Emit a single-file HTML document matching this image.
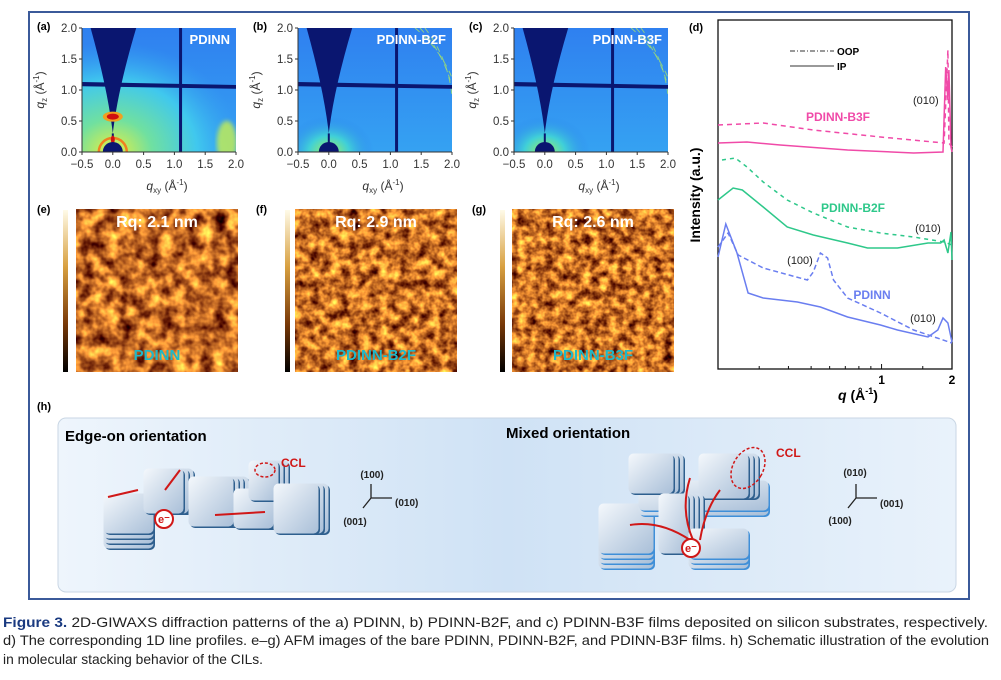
<!DOCTYPE html>
<html><head><meta charset="utf-8"><style>
html,body{margin:0;padding:0;background:#fff;}
svg{display:block;font-family:"Liberation Sans",Arial,sans-serif;}
</style></head><body>
<svg id="fig" width="1001" height="680" viewBox="0 0 1001 680" xmlns="http://www.w3.org/2000/svg">
<defs>
  <filter id="afm1" x="0" y="0" width="100%" height="100%" color-interpolation-filters="sRGB">
    <feTurbulence type="fractalNoise" baseFrequency="0.075" numOctaves="3" seed="3"/>
    <feColorMatrix type="matrix" values="1.8 0 0 0 -0.12  1.5 0 0 0 -0.32  0.6 0 0 0 -0.15  0 0 0 0 1"/>
  </filter>
  <filter id="afm2" x="0" y="0" width="100%" height="100%" color-interpolation-filters="sRGB">
    <feTurbulence type="fractalNoise" baseFrequency="0.1" numOctaves="3" seed="8"/>
    <feColorMatrix type="matrix" values="1.8 0 0 0 -0.1  1.5 0 0 0 -0.3  0.6 0 0 0 -0.15  0 0 0 0 1"/>
  </filter>
  <filter id="afm3" x="0" y="0" width="100%" height="100%" color-interpolation-filters="sRGB">
    <feTurbulence type="fractalNoise" baseFrequency="0.11" numOctaves="3" seed="15"/>
    <feColorMatrix type="matrix" values="1.8 0 0 0 -0.1  1.5 0 0 0 -0.3  0.6 0 0 0 -0.15  0 0 0 0 1"/>
  </filter>
  <filter id="blur2"><feGaussianBlur stdDeviation="2"/></filter>
  <linearGradient id="cbar" x1="0" y1="0" x2="0" y2="1">
    <stop offset="0" stop-color="#fffbe8"/><stop offset="0.35" stop-color="#d8a040"/>
    <stop offset="0.7" stop-color="#7a3a08"/><stop offset="1" stop-color="#000"/>
  </linearGradient>
  <linearGradient id="hbg" x1="0" y1="0" x2="1" y2="0">
    <stop offset="0" stop-color="#eef5fc"/><stop offset="0.5" stop-color="#cfe2f5"/><stop offset="1" stop-color="#e9f2fb"/>
  </linearGradient>
  <linearGradient id="gbg" x1="0" y1="0" x2="0" y2="1">
    <stop offset="0" stop-color="#2f80f0"/><stop offset="1" stop-color="#35a2f2"/>
  </linearGradient>
  <radialGradient id="glowA" cx="0.5" cy="0.5" r="0.5">
    <stop offset="0" stop-color="#e8f040"/><stop offset="0.3" stop-color="#70e0a0"/>
    <stop offset="0.65" stop-color="#40c8ee"/><stop offset="1" stop-color="#35a0f0" stop-opacity="0"/>
  </radialGradient>
  <radialGradient id="glowB" cx="0.5" cy="0.5" r="0.5">
    <stop offset="0" stop-color="#a0f060"/><stop offset="0.45" stop-color="#40d0d8"/>
    <stop offset="1" stop-color="#2a80ee" stop-opacity="0"/>
  </radialGradient>
  <linearGradient id="blk" x1="0" y1="0" x2="1" y2="1">
    <stop offset="0" stop-color="#f4f8fc"/><stop offset="1" stop-color="#a9bfd8"/>
  </linearGradient>
</defs>
<rect width="1001" height="680" fill="#fff"/>
<rect x="29" y="12" width="940" height="587" fill="none" stroke="#3b5a9a" stroke-width="2"/>

<g id="giwaxs"></g>

<!-- AFM -->
<g font-weight="bold">
  <text x="37" y="213" font-size="11">(e)</text>
  <rect x="63" y="210" width="5" height="162" fill="url(#cbar)"/>
  <rect x="76" y="209" width="162" height="163" filter="url(#afm1)"/>
  <text x="157" y="227" font-size="16" fill="#fff" text-anchor="middle">Rq: 2.1 nm</text>
  <text x="157" y="360" font-size="15" fill="#20b8c8" text-anchor="middle">PDINN</text>

  <text x="256" y="213" font-size="11">(f)</text>
  <rect x="285" y="210" width="5" height="162" fill="url(#cbar)"/>
  <rect x="295" y="209" width="162" height="163" filter="url(#afm2)"/>
  <text x="376" y="227" font-size="16" fill="#fff" text-anchor="middle">Rq: 2.9 nm</text>
  <text x="376" y="360" font-size="15" fill="#20b8c8" text-anchor="middle">PDINN-B2F</text>

  <text x="472" y="213" font-size="11">(g)</text>
  <rect x="500" y="210" width="5" height="162" fill="url(#cbar)"/>
  <rect x="512" y="209" width="162" height="163" filter="url(#afm3)"/>
  <text x="593" y="227" font-size="16" fill="#fff" text-anchor="middle">Rq: 2.6 nm</text>
  <text x="593" y="360" font-size="15" fill="#20b8c8" text-anchor="middle">PDINN-B3F</text>
</g>

<!-- Panel d -->
<g id="pd">
  <text x="689" y="31" font-size="11" font-weight="bold">(d)</text>
  <rect x="718" y="20" width="234" height="349" fill="none" stroke="#111" stroke-width="1.3"/>
  <text transform="translate(700,195) rotate(-90)" font-size="14" font-weight="bold" text-anchor="middle">Intensity (a.u.)</text>
  <text x="858" y="400" font-size="14" font-weight="bold" text-anchor="middle"><tspan font-style="italic">q</tspan> (Å<tspan font-size="9" dy="-6">-1</tspan><tspan dy="6">)</tspan></text>
  <g font-size="10" font-weight="bold">
    <line x1="790" y1="51" x2="834" y2="51" stroke="#333" stroke-dasharray="5,2,1,2"/>
    <text x="837" y="55">OOP</text>
    <line x1="790" y1="66" x2="834" y2="66" stroke="#333"/>
    <text x="837" y="70">IP</text>
  </g>
  <g font-size="11" fill="#222">
    <text x="913" y="104">(010)</text>
    <text x="928" y="232" text-anchor="middle">(010)</text>
    <text x="800" y="264" text-anchor="middle">(100)</text>
    <text x="923" y="322" text-anchor="middle">(010)</text>
  </g>
  <g font-size="12" font-weight="bold">
    <text x="838" y="121" fill="#f04aa8" text-anchor="middle">PDINN-B3F</text>
    <text x="853" y="212" fill="#2ec88a" text-anchor="middle">PDINN-B2F</text>
    <text x="872" y="299" fill="#6a7ef0" text-anchor="middle">PDINN</text>
  </g>
  <g id="pdticks"></g>
  <g id="pdlines"></g>
</g>

<!-- Panel h -->
<g>
  <text x="37" y="410" font-size="11" font-weight="bold">(h)</text>
  <rect x="58" y="418" width="898" height="174" rx="8" fill="url(#hbg)" stroke="#c9d6e4"/>
  <text x="65" y="441" font-size="15" font-weight="bold">Edge-on orientation</text>
  <text x="506" y="438" font-size="15" font-weight="bold">Mixed orientation</text>
  <g id="blocks"></g>
  <g font-size="10" font-weight="bold" fill="#222">
    <text x="372" y="478" text-anchor="middle">(100)</text>
    <text x="395" y="506">(010)</text>
    <text x="355" y="525" text-anchor="middle">(001)</text>
    <text x="855" y="476" text-anchor="middle">(010)</text>
    <text x="880" y="507">(001)</text>
    <text x="840" y="524" text-anchor="middle">(100)</text>
  </g>
  <g stroke="#222" stroke-width="1.3" fill="none">
    <path d="M371,498 V484 M371,498 H392 M371,498 L363,508"/>
    <path d="M856,498 V484 M856,498 H877 M856,498 L848,508"/>
  </g>
  <g fill="#d01818" font-size="12" font-weight="bold">
    <text x="281" y="467">CCL</text>
    <text x="776" y="457">CCL</text>
  </g>
</g>

<!-- Caption -->
<g font-size="14" fill="#222">
  <text x="3" y="627" textLength="985" lengthAdjust="spacingAndGlyphs"><tspan font-weight="bold" fill="#1a3a80">Figure 3.</tspan> 2D-GIWAXS diffraction patterns of the a) PDINN, b) PDINN-B2F, and c) PDINN-B3F films deposited on silicon substrates, respectively.</text>
  <text x="3" y="645" textLength="986" lengthAdjust="spacingAndGlyphs">d) The corresponding 1D line profiles. e–g) AFM images of the bare PDINN, PDINN-B2F, and PDINN-B3F films. h) Schematic illustration of the evolution</text>
  <text x="3" y="664" textLength="260" lengthAdjust="spacingAndGlyphs">in molecular stacking behavior of the CILs.</text>
</g>
</svg>
<script>
// ---- Panel d data (q in Å^-1, intensity in arbitrary units) ----
const pdinnIpQ   = [0.2,0.216,0.241,0.269,0.312,0.437,0.548,0.716,0.99,1.17,1.58,1.74,1.83,1.92,2.0];
const pdinnIpI   = [112,145,116,76,71,67,62,52,44,39,32,39,51,46,27];
const pdinnOopQ  = [0.2,0.221,0.244,0.312,0.482,0.511,0.548,0.588,0.623,0.716,0.99,1.37,2.0];
const pdinnOopI  = [122,136,114,101,89,97,116,111,89,71,56,39,26];
const b2fIpQ     = [0.2,0.232,0.254,0.312,0.395,0.511,0.716,0.871,1.17,1.58,1.79,1.85,1.92,1.98,2.0];
const b2fIpI     = [169,181,179,162,142,134,126,121,121,126,126,129,116,137,109];
const b2fOopQ    = [0.208,0.237,0.266,0.312,0.395,0.511,0.716,0.99,1.37,1.85,2.0];
const b2fOopI    = [209,211,202,187,169,156,142,136,132,127,124];
const b3fIpQ     = [0.2,0.266,0.369,0.716,1.37,1.83,1.88,1.92,1.94,1.98,2.0];
const b3fIpI     = [226,227,224,219,216,217,302,269,299,222,217];
const b3fOopQ    = [0.2,0.312,0.511,0.99,1.85,1.92,1.94,2.0];
const b3fOopI    = [244,246,239,232,226,319,226,222];
const majorTicks = [1,2];
const majorLabels= ["1","2"];
const minorTicks = [0.3,0.4,0.5,0.6,0.7,0.8,0.9,1.5];

const NS="http://www.w3.org/2000/svg";
function mk(tag,attrs,parent){const e=document.createElementNS(NS,tag);for(const k in attrs)e.setAttribute(k,attrs[k]);parent.appendChild(e);return e;}
const X0=718,X1=952,Y0=369,Y1=20,QMIN=0.2,QMAX=2.0,IMAX=349;
function xs(q){return X0+(X1-X0)*Math.log10(q/QMIN)/Math.log10(QMAX/QMIN);}
function ys(v){return Y0-(Y0-Y1)*v/IMAX;}

const tg=document.getElementById('pdticks');
majorTicks.forEach((t,i)=>{
  const l=mk('line',{x1:xs(t),x2:xs(t),y1:Y0,y2:Y0-5,stroke:'#111'},tg);
  
  
  const tx=mk('text',{x:xs(t),y:Y0+15,'font-size':12,'font-weight':'bold','text-anchor':'middle'},tg);
  tx.textContent=majorLabels[i];
  
  
});
minorTicks.forEach(t=>{
  const l=mk('line',{x1:xs(t),x2:xs(t),y1:Y0,y2:Y0-3,stroke:'#111'},tg);
  
  
});
const lg=document.getElementById('pdlines');
const series=[
 ['pdinn-ip',pdinnIpQ,pdinnIpI,'#6a7ef0',null],
 ['pdinn-oop',pdinnOopQ,pdinnOopI,'#6a7ef0','5,3'],
 ['pdinn-b2f-ip',b2fIpQ,b2fIpI,'#2ec88a',null],
 ['pdinn-b2f-oop',b2fOopQ,b2fOopI,'#2ec88a','4,4'],
 ['pdinn-b3f-ip',b3fIpQ,b3fIpI,'#f04aa8',null],
 ['pdinn-b3f-oop',b3fOopQ,b3fOopI,'#f04aa8','5,4']];
series.forEach(s=>{
  const d=s[1].map((q,i)=>(i?'L':'M')+xs(q).toFixed(1)+','+ys(s[2][i]).toFixed(1)).join(' ');
  const p=mk('path',{d:d,fill:'none',stroke:s[3],'stroke-width':1.5},lg);
  if(s[4])p.setAttribute('stroke-dasharray',s[4]);
  
  
});

// ---- GIWAXS panels ----
const gw=document.getElementById('giwaxs');
const panels=[['(a)','PDINN',82,'a'],['(b)','PDINN-B2F',298,'b'],['(c)','PDINN-B3F',514,'c']];
panels.forEach((pp,k)=>{
  const x0=pp[2],y0=28,w=154,h=124,sx=w/2.5,sy=h/2;
  const ox=x0+0.5*sx,oy=y0+h;
  const X=q=>ox+q*sx,Y=q=>oy-q*sy;
  const g=mk('g',{},gw);
  
  
  const cp=mk('clipPath',{id:'cp'+k},g);mk('rect',{x:x0,y:y0,width:w,height:h},cp);
  const c=mk('g',{'clip-path':'url(#cp'+k+')'},g);
  mk('rect',{x:x0,y:y0,width:w,height:h,fill:'url(#gbg)'},c);
  if(pp[3]==='a'){
    mk('ellipse',{cx:ox,cy:oy,rx:130,ry:110,fill:'url(#glowA)'},c);
    mk('ellipse',{cx:X(1.85),cy:Y(0.15),rx:10,ry:22,fill:'#c8f050',opacity:0.8,filter:'url(#blur2)'},c);
  } else {
    mk('ellipse',{cx:ox,cy:oy,rx:45,ry:36,fill:'url(#glowB)'},c);
    for(let r=0;r<3;r++){
      mk('path',{d:`M${X(1.4+r*0.08)},${y0} A${2.1*sx} ${2.1*sy} 0 0 1 ${x0+w},${Y(1.2-r*0.15)}`,fill:'none',stroke:'#a0e070','stroke-width':1,'stroke-dasharray':'6,5',opacity:0.8},c);
    }
  }
  mk('path',{d:`M${X(-0.36)},${y0} Q${X(-0.08)},${Y(1.0)} ${X(0)},${Y(0.3)} Q${X(0.08)},${Y(1.0)} ${X(0.38)},${y0} Z`,fill:'#0a1670'},c);
  mk('line',{x1:X(0),y1:Y(0.3),x2:X(0),y2:oy,stroke:'#0a1670','stroke-width':2},c);
  mk('path',{d:`M${x0},${Y(1.13)} L${x0+w},${Y(1.08)} L${x0+w},${Y(1.02)} L${x0},${Y(1.06)} Z`,fill:'#0a1670'},c);
  mk('rect',{x:X(1.1)-1.5,y:y0,width:3,height:h,fill:'#0a1670'},c);
  if(pp[3]==='a'){
    mk('ellipse',{cx:X(0),cy:Y(0.57),rx:10,ry:5,fill:'#f0a020'},c);
    mk('ellipse',{cx:X(0),cy:Y(0.57),rx:6,ry:3,fill:'#d01010'},c);
    mk('circle',{cx:ox,cy:oy,r:14,fill:'none',stroke:'#f08020','stroke-width':2.5},c);
    mk('ellipse',{cx:X(0),cy:Y(0.2),rx:2,ry:4,fill:'#d01010'},c);
  }
  mk('circle',{cx:ox,cy:oy,r:10,fill:'#0a1670'},c);
  // axes
  mk('line',{x1:x0,y1:y0,x2:x0,y2:y0+h,stroke:'#333'},g);
  mk('line',{x1:x0,y1:y0+h,x2:x0+w,y2:y0+h,stroke:'#333'},g);
  for(let v=0;v<=2.001;v+=0.5){
    mk('line',{x1:x0-3,x2:x0,y1:Y(v),y2:Y(v),stroke:'#333'},g);
    const t=mk('text',{x:x0-5,y:Y(v)+4,'font-size':11.5,fill:'#333','text-anchor':'end'},g);t.textContent=v.toFixed(1);
  }
  for(let v=-0.5;v<=2.001;v+=0.5){
    mk('line',{x1:X(v),x2:X(v),y1:oy,y2:oy+3,stroke:'#333'},g);
    const t=mk('text',{x:X(v),y:oy+16,'font-size':11.5,fill:'#333','text-anchor':'middle'},g);t.textContent=(v<0?'\u2212':'')+Math.abs(v).toFixed(1);
  }
  const lab=mk('text',{x:x0-45,y:y0+2,'font-size':11,'font-weight':'bold'},g);lab.textContent=pp[0];
  const nm=mk('text',{x:x0+w-6,y:y0+16,'font-size':13,'font-weight':'bold',fill:'#fff','text-anchor':'end'},g);nm.textContent=pp[1];
  const yt=mk('text',{transform:`translate(${x0-38},${y0+h/2}) rotate(-90)`,'font-size':12,fill:'#333','text-anchor':'middle'},g);
  yt.innerHTML='<tspan font-style="italic">q</tspan><tspan font-size="8" dy="3">z</tspan><tspan dy="-3"> (Å</tspan><tspan font-size="8" dy="-5">-1</tspan><tspan dy="5">)</tspan>';
  const xt=mk('text',{x:x0+w/2+8,y:y0+h+38,'font-size':12,fill:'#333','text-anchor':'middle'},g);
  xt.innerHTML='<tspan font-style="italic">q</tspan><tspan font-size="8" dy="3">xy</tspan><tspan dy="-3"> (Å</tspan><tspan font-size="8" dy="-5">-1</tspan><tspan dy="5">)</tspan>';
});

// ---- schematic blocks ----
const bl=document.getElementById('blocks');
function stack(x,y,w,h,n,vertical,blue){
  const g=mk('g',{},bl);
  for(let i=n-1;i>=0;i--){
    const dx=vertical?i*5:0,dy=vertical?0:i*5;
    mk('rect',{x:x+dx,y:y+dy,width:w,height:h,rx:5,fill:blue?'#3f8fd8':'#2e5f8e'},g);
    mk('rect',{x:x+dx-1.5,y:y+dy-1.5,width:w,height:h,rx:5,fill:'url(#blk)'},g);
  }
}
stack(105,495,50,40,4,false,false);stack(145,470,40,45,3,true,false);
stack(190,478,45,50,4,true,false);stack(235,490,40,40,3,true,false);
stack(250,462,30,40,3,true,false);stack(275,485,45,50,3,true,false);
stack(600,505,55,50,4,false,true);stack(640,482,130,30,2,false,true);
stack(630,455,45,40,3,true,false);stack(700,455,50,45,3,true,false);
stack(660,495,30,60,4,true,false);stack(690,530,60,30,3,false,true);
mk('ellipse',{cx:265,cy:470,rx:10,ry:7,fill:'none',stroke:'#d01818','stroke-dasharray':'3,2','stroke-width':1.5},bl);
mk('ellipse',{cx:748,cy:468,rx:15,ry:22,fill:'none',stroke:'#d01818','stroke-dasharray':'3,2','stroke-width':1.5,transform:'rotate(30 748 468)'},bl);
[[108,497,138,490],[165,490,180,470],[215,515,265,512]].forEach(a=>mk('line',{x1:a[0],y1:a[1],x2:a[2],y2:a[3],stroke:'#d01818','stroke-width':2},bl));
mk('path',{d:'M690,540 Q660,520 630,525 M693,540 Q680,510 690,478 M700,540 Q705,510 720,490',fill:'none',stroke:'#d01818','stroke-width':2},bl);
[[164,519],[691,548]].forEach(p=>{
  mk('circle',{cx:p[0],cy:p[1],r:9,fill:'#fff',stroke:'#d01818','stroke-width':2},bl);
  const t=mk('text',{x:p[0],y:p[1]+4,'font-size':11,'font-weight':'bold',fill:'#d01818','text-anchor':'middle'},bl);t.textContent='e⁻';
});
</script>
</body></html>
